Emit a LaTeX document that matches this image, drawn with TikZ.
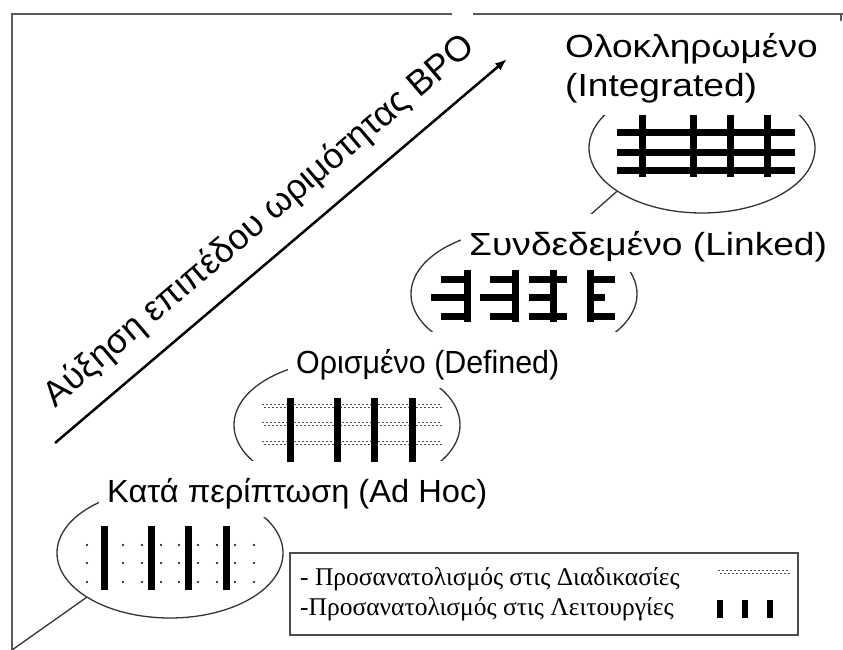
\documentclass[tikz,border=0pt]{standalone}
\usepackage{fontspec}
\setmainfont{Liberation Sans}
\newfontfamily\legfont{Liberation Serif}
\usetikzlibrary{shapes.geometric,arrows.meta}
\begin{document}
\begin{tikzpicture}[x=1pt,y=-1pt,
  frameline/.style={draw=black!65, line width=2pt},
  conn/.style={draw=black!80, line width=1.3pt},
  oval/.style={ellipse, draw=black!80, line width=1.3pt, minimum width=226pt, minimum height=130pt, inner sep=0pt},
  lbl/.style={fill=white, font=\fontsize{32}{36}\selectfont, inner xsep=8pt, inner ysep=0pt, text height=41pt, text depth=15pt, anchor=base west},
  bar/.style={line width=7pt},
  stip/.style={draw=black!70, line width=1.5pt, dash pattern=on 1.5pt off 2.5pt},
  dotmark/.style={fill=black},
  legtext/.style={anchor=base west, inner sep=0pt, font=\legfont\fontsize{25.5}{28}\selectfont}
]
\useasboundingbox (0,0) rectangle (843,650);
% frame
\draw[frameline] (12,650) -- (12,14) -- (452,14);
\draw[frameline] (473,14) -- (843,14);
\draw[frameline] (841,14) -- (841,21);
% ellipses
\node[oval] (e1) at (170,553) {};
\node[oval] (e2) at (347,425) {};
\node[oval] (e3) at (524,294) {};
\node[oval] (e4) at (702,148) {};
% connectors
\coordinate (corner) at (12,650);
\coordinate (lk) at (589,216);
\draw[conn] (corner) -- (e1.208);
\draw[conn] (lk) -- (e4.207);
% labels
\node[lbl] (l1) at (99,502) {\scalebox{1.02}[1]{Κατά περίπτωση (Ad Hoc)}};
\node[lbl] (l2) at (288,373) {\makebox[321pt][l]{\scalebox{0.95}[1]{Ορισμένο (Defined)}}};
\node[lbl, text depth=17pt] (l3) at (461,255) {\scalebox{1.16}[1]{Συνδεδεμένο (Linked)}};
\node[lbl, text depth=10pt] (l4a) at (557,58) {\scalebox{1.16}[1]{Ολοκληρωμένο}};
\node[lbl, text height=28pt, text depth=18pt] (l4b) at (557,97) {\makebox[235pt][l]{\scalebox{1.16}[1]{(Integrated)}}};
% E1 content
\foreach \x in {104,151,188,226} \draw[bar] (\x,526) -- (\x,590);
\foreach \x in {87,123,142,161,179,198,217,235,254}
  \foreach \y in {545,563,582} \fill[dotmark] (\x,\y) circle (1.1pt);
% E2 content
\foreach \y in {406,424,443} {
  \draw[stip] (262,\y-1.7) -- (442,\y-1.7);
  \draw[stip, dash phase=2pt] (262,\y+1.7) -- (442,\y+1.7);
}
\foreach \x in {290,337,374,412} \draw[bar] (\x,398) -- (\x,462);
% E3 content
\foreach \x in {467,515,553,590} \draw[bar] (\x,270) -- (\x,322);
\draw[bar] (441,279) -- (470,279); \draw[bar] (431,297) -- (470,297); \draw[bar] (441,316) -- (470,316);
\draw[bar] (490,279) -- (518,279); \draw[bar] (480,297) -- (518,297); \draw[bar] (490,316) -- (518,316);
\draw[bar] (529,279) -- (567,279); \draw[bar] (529,297) -- (557,297); \draw[bar] (529,316) -- (567,316);
\draw[bar] (587,279) -- (615,279); \draw[bar] (587,297) -- (605,297); \draw[bar] (587,316) -- (615,316);
% E4 content
\foreach \y in {133,152,170} \draw[bar] (617,\y) -- (795,\y);
\foreach \x in {642,693,730,767} \draw[bar] (\x,115) -- (\x,177);
% arrow and title
\coordinate (a0) at (55,443);
\coordinate (a1) at (507,59);
\draw[line width=2.5pt, -{Latex[length=12pt,width=9pt]}] (a0) -- (a1);
\node[anchor=base, rotate=40.4, font=\fontsize{35.5}{38}\selectfont, inner sep=0pt] (title) at (266,229) {Αύξηση επιπέδου ωριμότητας BPO};
% legend
\node[draw=black!70, line width=2pt, minimum width=508pt, minimum height=82pt, inner sep=0pt] (leg) at (544,594) {};
\node[legtext] (lg1) at (300,585) {- Προσανατολισμός στις Διαδικασίες};
\node[legtext] (lg2) at (300,615) {-Προσανατολισμός στις Λειτουργίες};
\draw[stip, line width=1.2pt] (718,570.5) -- (790,570.5);
\draw[stip, line width=1.2pt, dash phase=2pt] (718,573.5) -- (790,573.5);
\foreach \x in {720,745,770} \draw[line width=6pt] (\x,600) -- (\x,618);
\end{tikzpicture}
\end{document}
